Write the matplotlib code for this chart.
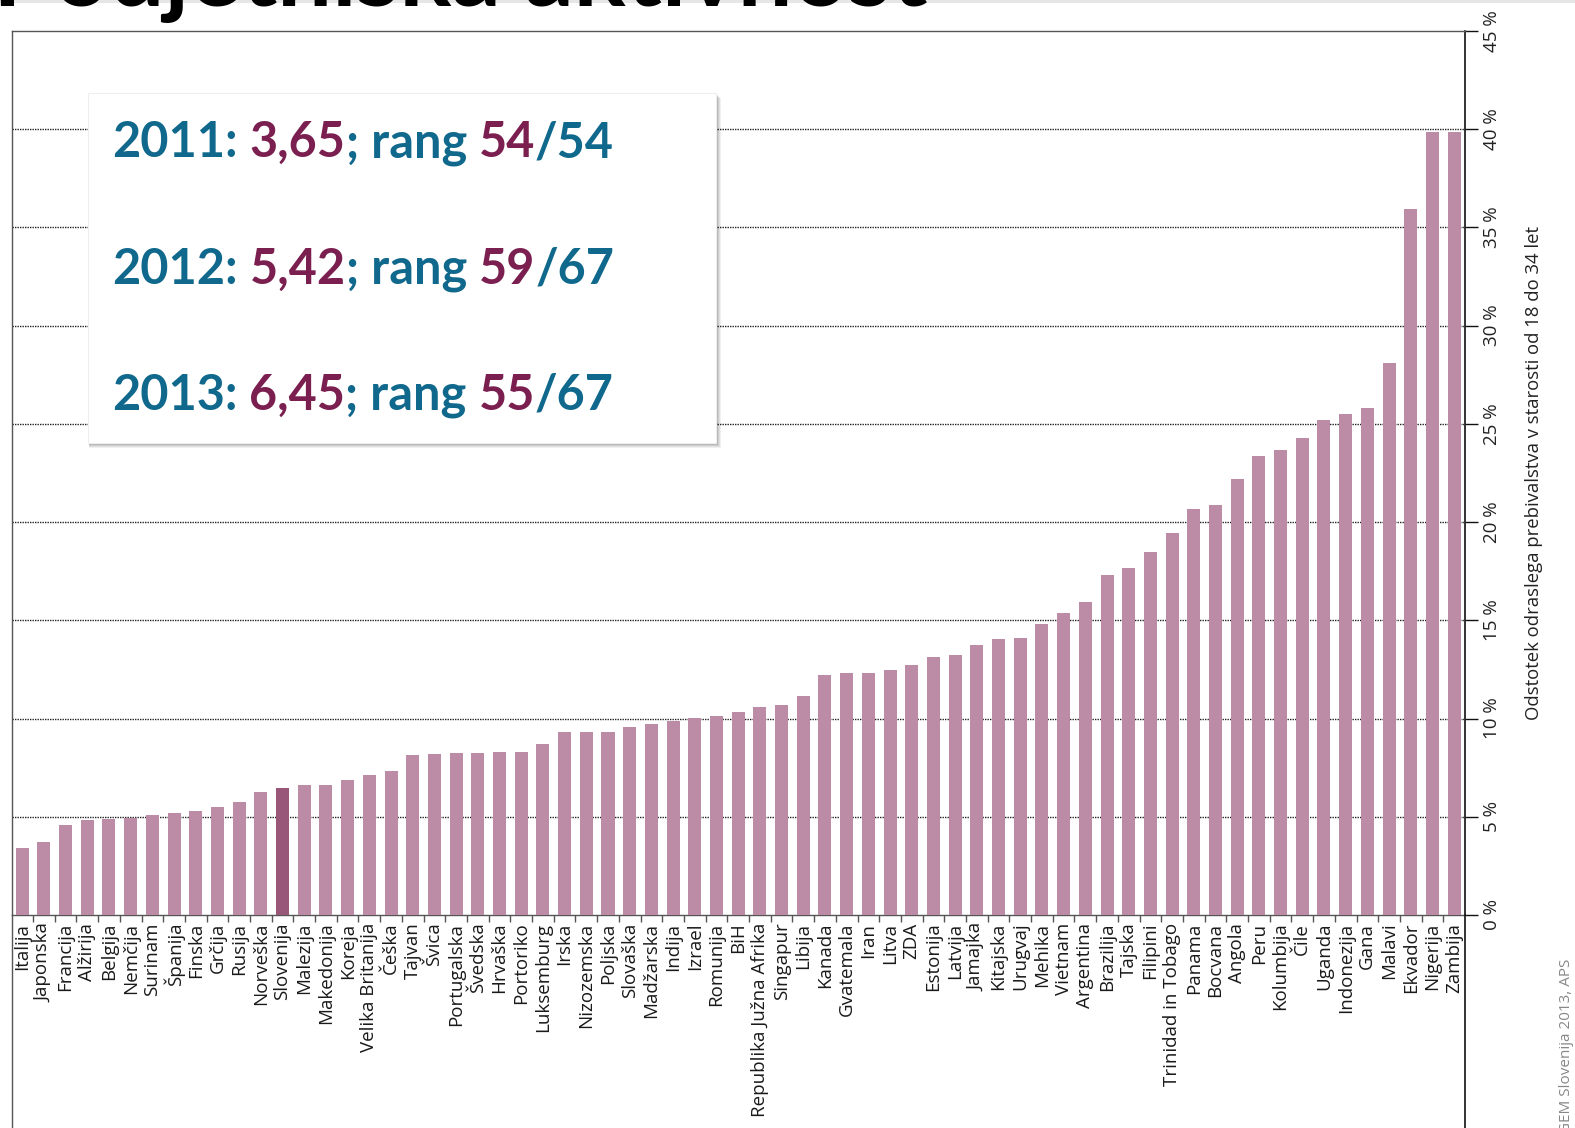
import matplotlib.pyplot as plt
from matplotlib.lines import Line2D
from matplotlib.patches import Rectangle
from matplotlib.ticker import FixedLocator

countries = [
    "Italija", "Japonska", "Francija", "Alžirija", "Belgija", "Nemčija", "Surinam",
    "Španija", "Finska", "Grčija", "Rusija", "Norveška", "Slovenija", "Malezija",
    "Makedonija", "Koreja", "Velika Britanija", "Češka", "Tajvan", "Švica",
    "Portugalska", "Švedska", "Hrvaška", "Portoriko", "Luksemburg", "Irska",
    "Nizozemska", "Poljska", "Slovaška", "Madžarska", "Indija", "Izrael", "Romunija",
    "BiH", "Republika Južna Afrika", "Singapur", "Libija", "Kanada", "Gvatemala",
    "Iran", "Litva", "ZDA", "Estonija", "Latvija", "Jamajka", "Kitajska", "Urugvaj",
    "Mehika", "Vietnam", "Argentina", "Brazilija", "Tajska", "Filipini",
    "Trinidad in Tobago", "Panama", "Bocvana", "Angola", "Peru", "Kolumbija", "Čile",
    "Uganda", "Indonezija", "Gana", "Malavi", "Ekvador", "Nigerija", "Zambija",
]

tea = [
    3.4, 3.7, 4.6, 4.85, 4.9, 4.95, 5.1, 5.2, 5.3, 5.5, 5.75, 6.25, 6.45, 6.6, 6.6,
    6.85, 7.15, 7.35, 8.15, 8.2, 8.25, 8.25, 8.3, 8.3, 8.7, 9.3, 9.3, 9.3, 9.55, 9.7,
    9.9, 10.05, 10.15, 10.35, 10.6, 10.7, 11.15, 12.2, 12.3, 12.3, 12.45, 12.75,
    13.15, 13.25, 13.75, 14.05, 14.1, 14.8, 15.35, 15.95, 17.3, 17.65, 18.5, 19.45,
    20.65, 20.85, 22.2, 23.35, 23.65, 24.3, 25.2, 25.5, 25.8, 28.1, 35.95, 39.85, 39.85,
]

y_ticks = [0, 5, 10, 15, 20, 25, 30, 35, 40, 45]

highlight = "Slovenija"

# box text: (piece, is_value)
box_lines = [
    [("2011:", False), ("3,65", True), ("; rang", False), ("54", True), ("/54", False)],
    [("2012:", False), ("5,42", True), ("; rang", False), ("59", True), ("/67", False)],
    [("2013:", False), ("6,45", True), ("; rang", False), ("55", True), ("/67", False)],
]

TEAL = "#10698c"
PURPLE = "#7a1f4f"
BAR = "#bc8ca6"
BAR_HI = "#985679"

W, H = 1575, 1128


def fx(px):
    return px / W


def fy(py):
    return 1 - py / H


def main():
    fig = plt.figure(figsize=(W / 100, H / 100), dpi=100)
    fig.patch.set_facecolor("white")

    left, right, top, bottom = 12, 1465, 31, 915
    ax = fig.add_axes([fx(left), fy(bottom), fx(right - left), (bottom - top) / H])

    x = list(range(len(countries)))
    colors = [BAR_HI if c == highlight else BAR for c in countries]
    ax.bar(x, tea, width=0.6, color=colors, zorder=3)

    ax.set_xlim(-0.47, len(countries) - 0.5)
    ax.set_ylim(0, 45)

    # gridlines
    for v in y_ticks[1:-1]:
        ax.axhline(v, color="#222222", linestyle=(0, (1, 0.8)), linewidth=1, zorder=1)

    # x axis: labels at bars, ticks between bars
    ax.set_xticks(x)
    ax.set_xticklabels(countries, rotation=90, fontsize=13.5, family="Open Sans",
                       color="#1a1a1a", va="top")
    ax.tick_params(axis="x", which="major", length=0, pad=5.5)
    ax.xaxis.set_minor_locator(FixedLocator([i + 0.5 for i in range(len(countries) - 1)]))
    ax.tick_params(axis="x", which="minor", length=5, width=1, color="#555555")

    # y axis on the right
    ax.yaxis.tick_right()
    ax.yaxis.set_label_position("right")
    ax.set_yticks(y_ticks)
    ax.set_yticklabels([f"{v} %" for v in y_ticks], rotation=90, va="center",
                       fontsize=13.5, family="Open Sans", color="#222222")
    ax.tick_params(axis="y", length=9, width=1, color="#111111", pad=4)
    ax.set_ylabel("Odstotek odraslega prebivalstva v starosti od 18 do 34 let",
                  fontsize=13.3, family="Open Sans", color="#222222", labelpad=17)

    for s in ["top", "left", "bottom"]:
        ax.spines[s].set_color("#555555")
        ax.spines[s].set_linewidth(1)
    ax.spines["right"].set_color("#111111")
    ax.spines["right"].set_linewidth(1.2)

    # frame lines running down to the bottom edge
    fig.add_artist(Line2D([fx(left), fx(left)], [0, fy(bottom)], color="#555555", lw=1))
    fig.add_artist(Line2D([fx(right), fx(right)], [0, fy(bottom)], color="#111111", lw=1.2))

    # strip at the top and cut-off title
    fig.add_artist(Rectangle((0, fy(3)), 1, fy(0) - fy(3), transform=fig.transFigure,
                             color="#e6e6e6", lw=0, zorder=0))
    fig.text(fx(927), fy(6), "Podjetniška aktivnost", fontsize=70, fontweight="bold",
             family="Lato", color="black", ha="right", va="baseline")

    # text box with shadow
    bx0, by0, bx1, by1 = 88, 93, 716, 443
    for i, a in enumerate([0.06, 0.07, 0.08, 0.1]):
        off = 5 - i
        fig.add_artist(Rectangle((fx(bx0 + 1), fy(by1 + off)), fx(bx1 - bx0 + off - 1),
                                 (by1 - by0) / H, transform=fig.transFigure,
                                 color="black", alpha=a, lw=0, zorder=4))
    fig.add_artist(Rectangle((fx(bx0), fy(by1)), fx(bx1 - bx0), (by1 - by0) / H,
                             transform=fig.transFigure, facecolor="white",
                             edgecolor="#eeeeee", lw=0.8, zorder=5))

    renderer = fig.canvas.get_renderer()
    tx0 = fx(112)
    baselines = [157, 284, 410]
    for line, base in zip(box_lines, baselines):
        prefix = ""
        for k, (piece, is_val) in enumerate(line):
            if k == 0:
                prefix = piece
            elif piece.startswith(";") or piece.startswith("/"):
                prefix = prefix + piece
            else:
                prefix = prefix + " " + piece
            tmp = fig.text(tx0, fy(base), prefix, fontsize=35, fontweight="bold",
                           family="Lato")
            bb = tmp.get_window_extent(renderer)
            tmp.remove()
            fig.text(bb.x1 / fig.bbox.width, fy(base), piece, fontsize=35,
                     fontweight="bold", family="Lato", ha="right", va="baseline",
                     color=PURPLE if is_val else TEAL, zorder=6)

    # source note
    fig.text(fx(1566), -0.004, "GEM Slovenija 2013, APS", rotation=90, fontsize=11,
             family="Open Sans", color="#888888", ha="center", va="bottom")

    fig.savefig("out.png", dpi=100)


if __name__ == "__main__":
    main()
